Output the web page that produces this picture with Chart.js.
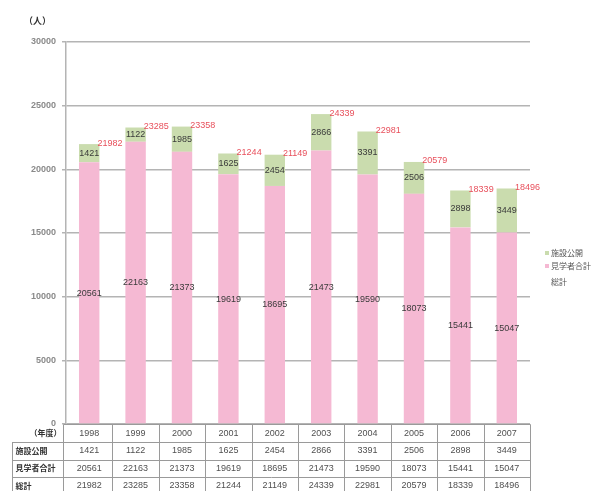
<!DOCTYPE html>
<html>
<head>
<meta charset="utf-8">
<script src="https://cdn.jsdelivr.net/npm/chart.js@4.4.0/dist/chart.umd.min.js"></script>
<style>
  body { margin: 0; background: #fff; }
  canvas { display: block; }
</style>
</head>
<body>
<canvas id="visitChart" width="594" height="491"></canvas>
<script>
// Data for chart
const years = ['1998', '1999', '2000', '2001', '2002', '2003', '2004', '2005', '2006', '2007'];
const facilityOpen = [1421, 1122, 1985, 1625, 2454, 2866, 3391, 2506, 2898, 3449];
const visitorTotal = [20561, 22163, 21373, 19619, 18695, 21473, 19590, 18073, 15441, 15047];
const grandTotal = [21982, 23285, 23358, 21244, 21149, 24339, 22981, 20579, 18339, 18496];
const yTicks = [0, 5000, 10000, 15000, 20000, 25000, 30000];

const PINK = '#f5b9d3';
const GREEN = '#cadcae';
const JP = '"Noto Sans CJK JP", "Liberation Sans", sans-serif';
const NUM = '"Liberation Sans", Arial, sans-serif';

// value labels, table and legend drawn on top of the chart
const extras = {
  id: 'extras',
  afterDraw(chart) {
    const ctx = chart.ctx;
    const y = chart.scales.y;
    const x = chart.scales.x;
    const area = chart.chartArea;
    const pinkMeta = chart.getDatasetMeta(0);
    ctx.save();

    // values inside bars and totals
    ctx.font = '9px ' + NUM;
    ctx.textBaseline = 'middle';
    years.forEach((yr, i) => {
      const bar = pinkMeta.data[i];
      ctx.textAlign = 'center';
      ctx.fillStyle = '#3a3a3a';
      ctx.fillText(visitorTotal[i], bar.x, y.getPixelForValue(visitorTotal[i] / 2));
      ctx.fillText(facilityOpen[i], bar.x, y.getPixelForValue(visitorTotal[i] + facilityOpen[i] / 2));
      ctx.textAlign = 'left';
      ctx.fillStyle = '#e8505c';
      ctx.fillText(grandTotal[i], bar.x + bar.width / 2 - 2, y.getPixelForValue(grandTotal[i]) - 1);
    });

    // data table under the chart
    const colW = (area.right - area.left) / years.length;
    const rowH = 17.5;
    const top = Math.round(area.bottom) + 0.5;
    const tableLeft = 12.5;
    const firstCol = Math.round(area.left - 3) + 0.5;
    const right = Math.round(area.right) + 0.5;
    ctx.strokeStyle = '#9a9a9a';
    ctx.lineWidth = 1;
    ctx.beginPath();
    ctx.moveTo(firstCol, top); ctx.lineTo(right, top);
    for (let r = 1; r < 4; r++) {
      const ry = Math.round(top + r * rowH) + 0.5;
      ctx.moveTo(tableLeft, ry); ctx.lineTo(right, ry);
    }
    ctx.moveTo(tableLeft, top + rowH); ctx.lineTo(tableLeft, chart.height + 5);
    ctx.moveTo(firstCol, top); ctx.lineTo(firstCol, chart.height + 5);
    for (let c = 1; c <= years.length; c++) {
      const cx = Math.round(area.left + c * colW) + 0.5;
      ctx.moveTo(cx, top); ctx.lineTo(cx, chart.height + 5);
    }
    ctx.stroke();

    const rows = [years, facilityOpen, visitorTotal, grandTotal];
    ctx.textAlign = 'center';
    ctx.fillStyle = '#505050';
    ctx.font = '9px ' + NUM;
    rows.forEach((row, r) => {
      const ry = top + r * rowH + rowH / 2;
      row.forEach((v, i) => ctx.fillText(v, x.getPixelForValue(i), ry));
    });
    ctx.fillStyle = '#333';
    ctx.font = 'bold 8px ' + JP;
    ctx.textAlign = 'right';
    ctx.fillText('（年度）', firstCol - 2, top + rowH / 2);
    ctx.textAlign = 'left';
    ['施設公開', '見学者合計', '総計'].forEach((t, r) => {
      ctx.fillText(t, tableLeft + 3, top + (r + 1) * rowH + rowH / 2);
    });

    // unit label
    ctx.font = 'bold 9px ' + JP;
    ctx.fillStyle = '#333';
    ctx.fillText('（人）', 24, 21);

    // legend
    ctx.font = '8px ' + JP;
    const legend = [['施設公開', GREEN], ['見学者合計', PINK], ['総計', null]];
    legend.forEach(([t, col], k) => {
      const ly = [253, 266, 282][k];
      if (col) {
        ctx.fillStyle = col;
        ctx.fillRect(545, ly - 2, 4, 4);
      }
      ctx.fillStyle = '#555';
      ctx.fillText(t, 551, ly);
    });
    ctx.restore();
  }
};

new Chart(document.getElementById('visitChart'), {
  type: 'bar',
  data: {
    labels: years,
    datasets: [
      {
        label: '見学者合計',
        data: visitorTotal,
        backgroundColor: PINK,
      },
      {
        label: '施設公開',
        data: facilityOpen,
        backgroundColor: GREEN,
      },
    ],
  },
  options: {
    responsive: false,
    animation: false,
    devicePixelRatio: 1,
    layout: { padding: { left: 0, right: 64, top: 42, bottom: 67 } },
    categoryPercentage: 1,
    barPercentage: 0.44,
    plugins: {
      legend: { display: false },
      tooltip: { enabled: false },
    },
    scales: {
      x: {
        stacked: true,
        display: false,
      },
      y: {
        stacked: true,
        min: 0,
        max: 30000,
        afterFit: (s) => { s.width = 66; },
        afterBuildTicks: (s) => { s.ticks = yTicks.map((v) => ({ value: v })); },
        ticks: {
          color: '#8a8a8a',
          font: { family: NUM, size: 9, weight: 'bold' },
          padding: 6,
          callback: (v) => String(v),
        },
        grid: {
          color: '#b4b4b4',
          lineWidth: 1.5,
          tickLength: 4,
        },
        border: { color: '#b4b4b4', width: 1.5 },
      },
    },
  },
  plugins: [extras],
});
</script>
</body>
</html>
